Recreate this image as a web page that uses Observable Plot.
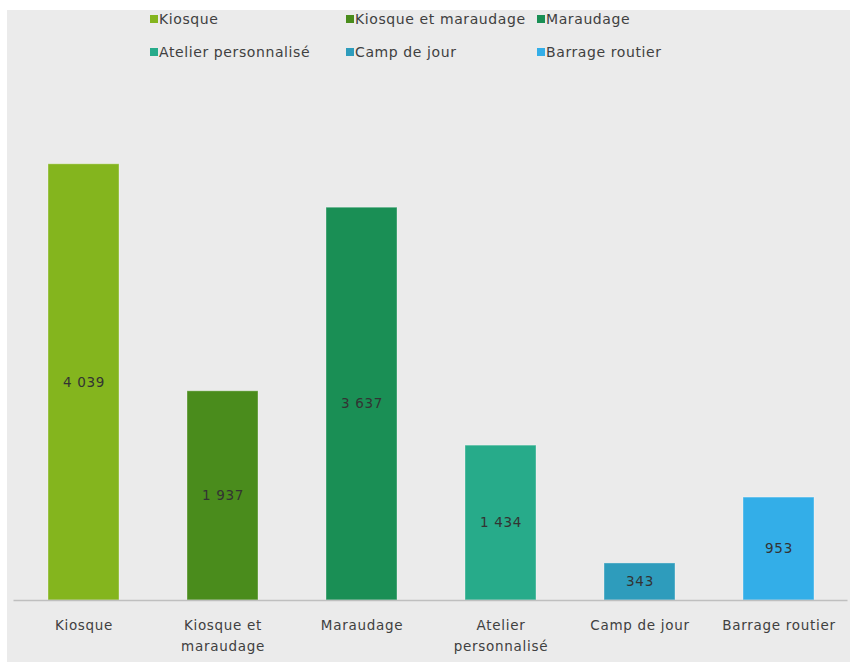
<!DOCTYPE html>
<html>
<head>
<meta charset="utf-8">
<script src="https://cdn.jsdelivr.net/npm/d3@7"></script>
<script src="https://cdn.jsdelivr.net/npm/@observablehq/plot@0.6"></script>
<style>
  html, body { margin: 0; padding: 0; background: #ffffff; }
  #frame { position: absolute; left: 7px; top: 10px; width: 843px; height: 652px; background: #ebebeb; overflow: hidden; }
  #chart { position: absolute; left: 0; top: 0; }
  #chart svg text { letter-spacing: 0.7px; }
  #legend { position: absolute; left: 143px; top: 0px; display: grid;
            grid-template-columns: 196px 191px 200px; grid-auto-rows: 33px;
            font-family: "DejaVu Sans", sans-serif; font-size: 14px; color: #404040; letter-spacing: 0.6px; }
  .item { display: flex; align-items: center; height: 18px; white-space: nowrap; }
  .sw { width: 8px; height: 8px; margin-right: 1px; flex: none; }
</style>
</head>
<body>
<div id="frame">
  <div id="chart"></div>
  <div id="legend"></div>
</div>
<script>
const categories = ["Kiosque", "Kiosque et maraudage", "Maraudage", "Atelier personnalisé", "Camp de jour", "Barrage routier"];
const axisLabels = ["Kiosque", "Kiosque et\nmaraudage", "Maraudage", "Atelier\npersonnalisé", "Camp de jour", "Barrage routier"];
const values = [4039, 1937, 3637, 1434, 343, 953];
const palette = ["#84b51e", "#4a8c1c", "#1a8f55", "#27ab8a", "#2e9cbc", "#33aee8"];

const data = categories.map((c, i) => ({category: c, value: values[i]}));
const fmt = v => d3.format(",")(v).replace(/,/g, " ");
const labelOf = new Map(categories.map((c, i) => [c, axisLabels[i]]));

const chart = Plot.plot({
  width: 843,
  height: 652,
  marginTop: 104,
  marginBottom: 62,
  marginLeft: 6.5,
  marginRight: 2.5,
  style: { background: "transparent", fontFamily: "DejaVu Sans, sans-serif", fontSize: "13.5px", color: "#404040" },
  x: { domain: categories, paddingInner: 0.49, paddingOuter: 0.245, label: null },
  y: { domain: [0, 4500], axis: null },
  color: { domain: categories, range: palette },
  marks: [
    Plot.barY(data, { x: "category", y: "value", fill: "category", stroke: "#ffffff", strokeOpacity: 0.35, strokeWidth: 1 }),
    Plot.ruleY([0], { stroke: "#bfbfbf", strokeWidth: 1.5 }),
    Plot.text(data, { x: "category", y: d => d.value / 2, text: d => fmt(d.value), fill: "#333333", fontSize: 13.5 }),
    Plot.axisX({ tickSize: 0, tickPadding: 15, tickFormat: c => labelOf.get(c), lineHeight: 1.55, fill: "#404040", fontSize: 13.5 })
  ]
});
document.getElementById("chart").appendChild(chart);

const legend = document.getElementById("legend");
categories.forEach((c, i) => {
  const item = document.createElement("div");
  item.className = "item";
  const sw = document.createElement("span");
  sw.className = "sw";
  sw.style.background = palette[i];
  const t = document.createElement("span");
  t.textContent = c;
  item.appendChild(sw);
  item.appendChild(t);
  legend.appendChild(item);
});
</script>
</body>
</html>
